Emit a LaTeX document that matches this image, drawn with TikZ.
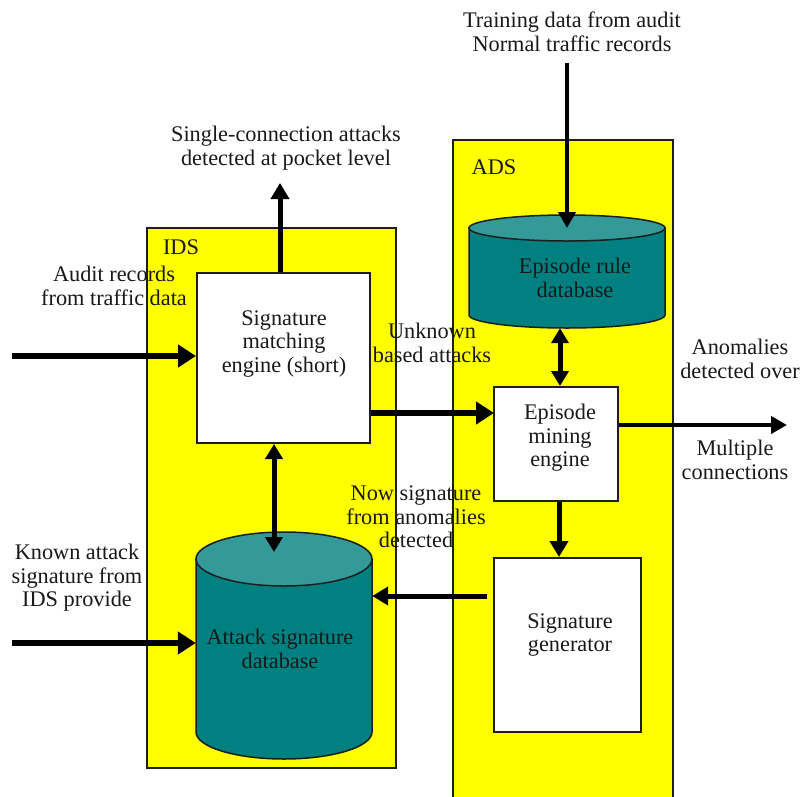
\documentclass[tikz,border=0pt]{standalone}
\usepackage{fontspec}
\setmainfont{Liberation Serif}
\usetikzlibrary{arrows.meta}
\definecolor{boxyellow}{RGB}{255,255,0}
\definecolor{dbteal}{RGB}{0,128,128}
\definecolor{dbtop}{RGB}{51,153,153}
\definecolor{edge}{RGB}{30,30,30}
\begin{document}
\begin{tikzpicture}[x=1pt,y=-1pt,
  container/.style={draw=edge,line width=2pt,fill=boxyellow,inner sep=0pt},
  procbox/.style={draw=edge,line width=2pt,fill=white,inner sep=0pt},
  txt/.style={align=center,inner sep=0pt,text=black!90,font=\fontsize{22.3}{23.5}\selectfont},
  anchorbox/.style={inner sep=0pt},
  bigarrow/.style={line width=6pt,-{Triangle[length=18pt,width=22pt]}},
  arrow/.style={line width=5pt,-{Triangle[length=16pt,width=18pt]}},
  dblarrow/.style={line width=5pt,{Triangle[length=15pt,width=17pt]}-{Triangle[length=15pt,width=17pt]}},
  outarrow/.style={line width=4pt,-{Triangle[length=16pt,width=17pt]}},
  dbbody/.style={draw=edge,line width=1.5pt,fill=dbteal},
  dbcap/.style={draw=edge,line width=1.5pt,fill=dbtop}]
\useasboundingbox (0,0) rectangle (804,796);
\clip (0,0) rectangle (804,796);
\fill[white] (0,0) rectangle (804,796);

% containers
\node[container,minimum width=249pt,minimum height=540pt] (ids) at (271.5,498) {};
\node[container,minimum width=220pt,minimum height=670pt] (ads) at (563,475) {};

% process boxes
\node[procbox,minimum width=173pt,minimum height=170pt] (sme) at (283.5,358) {};
\node[procbox,minimum width=124pt,minimum height=114pt] (eme) at (556,444) {};
\node[procbox,minimum width=147pt,minimum height=174pt] (sgen) at (567.5,645) {};

% episode rule database cylinder
\path[dbbody] (469,228) -- (469,315) arc[start angle=180,end angle=360,x radius=98pt,y radius=13pt] -- (665,228) -- cycle;
\path[dbcap] (567,228) ellipse[x radius=98pt,y radius=13pt];
\node[anchorbox,minimum width=196pt,minimum height=113pt] (erdb) at (567,271.5) {};
\coordinate (erdb-cap) at (567,228);

% attack signature database cylinder
\path[dbbody] (196,559) -- (196,732) arc[start angle=180,end angle=360,x radius=88pt,y radius=27pt] -- (372,559) -- cycle;
\path[dbcap] (284,559) ellipse[x radius=88pt,y radius=27pt];
\node[anchorbox,minimum width=176pt,minimum height=227pt] (asdb) at (284,645.5) {};
\coordinate (asdb-cap) at (274,552);

% texts
\node[txt] (t-train) at (572,32) {Training data from audit\\Normal traffic records};
\node[txt] (t-single) at (286,148) {Single-connection attacks\\detected at pocket level};
\node[txt] (t-ids) at (181,247) {IDS};
\node[txt] (t-ads) at (494,167) {ADS};
\node[txt] (t-audit) at (114,286) {Audit records\\from traffic data};
\node[txt] (t-sme) at (284,344) {Signature\\matching\\engine (short)};
\node[txt] (t-unknown) at (432,343) {Unknown\\based attacks};
\node[txt] (t-anom) at (740,359) {Anomalies\\detected over};
\node[txt] (t-eme) at (560,438) {Episode\\mining\\engine};
\node[txt] (t-multi) at (735,460) {Multiple\\connections};
\node[txt] (t-now) at (416,517) {Now signature\\from anomalies\\detected};
\node[txt] (t-erdb) at (575,278) {Episode rule\\database};
\node[txt] (t-known) at (77,578) {Known attack\\signature from\\IDS provide};
\node[txt] (t-asdb) at (280,649) {Attack signature\\database};
\node[txt] (t-sgen) at (570,635) {Signature\\generator};

% connectors
\coordinate (audit-src) at (12,356);
\draw[bigarrow] (audit-src) -- (audit-src -| sme.west);
\coordinate (known-src) at (12,643);
\draw[bigarrow] (known-src) -- (known-src -| asdb.west);
\coordinate (single-dst) at (280,183);
\draw[arrow] (single-dst |- sme.north) -- (single-dst);
\draw[dblarrow] (asdb-cap |- sme.south) -- (asdb-cap);
\coordinate (eme-in) at (494,413);
\draw[bigarrow] (sme.east |- eme-in) -- (eme-in);
\coordinate (train-src) at (567,63);
\draw[line width=4.5pt,-{Triangle[length=16pt,width=17pt]}] (train-src) -- (erdb-cap);
\coordinate (link-x) at (560,0);
\draw[dblarrow] (erdb.south -| link-x) -- (eme.north -| link-x);
\coordinate (out-dst) at (787,425);
\draw[outarrow] (eme.east |- out-dst) -- (out-dst);
\coordinate (gen-x) at (559,0);
\draw[arrow] (eme.south -| gen-x) -- (sgen.north -| gen-x);
\coordinate (gen-src) at (487,596);
\draw[arrow] (gen-src) -- (gen-src -| asdb.east);
\end{tikzpicture}
\end{document}
